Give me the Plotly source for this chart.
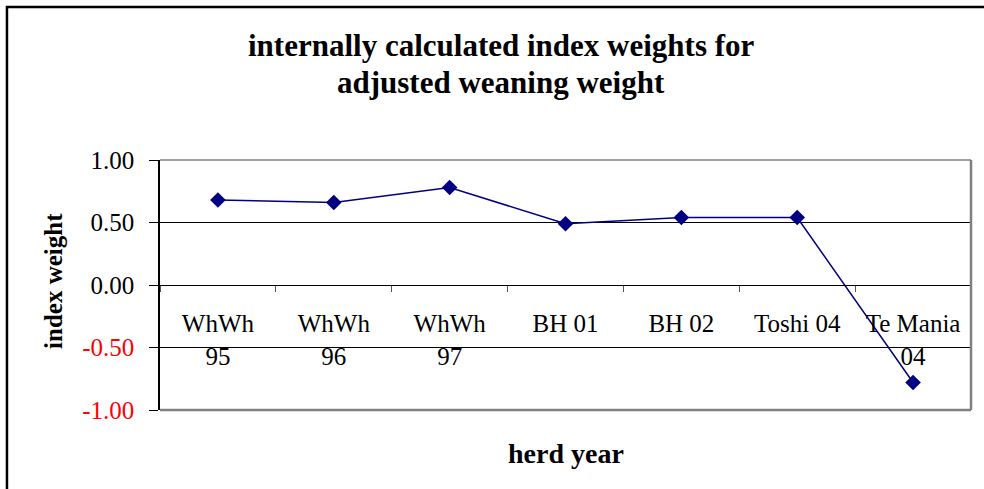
import plotly.graph_objects as go

categories = ["WhWh<br>95", "WhWh<br>96", "WhWh<br>97", "BH 01", "BH 02", "Toshi 04", "Te Mania<br>04"]
values = [0.68, 0.66, 0.78, 0.49, 0.54, 0.54, -0.78]
ytick_vals = [1.0, 0.5, 0.0, -0.5, -1.0]
ytick_text = ["1.00", "0.50", "0.00",
              '<span style="color:#FF0000">-0.50</span>',
              '<span style="color:#FF0000">-1.00</span>']

serif = "Liberation Serif"

fig = go.Figure()
fig.add_trace(go.Scatter(
    x=categories, y=values, mode="lines+markers",
    line=dict(color="#000080", width=1.5),
    marker=dict(symbol="diamond", size=12, color="#000080"),
    showlegend=False, cliponaxis=False,
))

fig.update_layout(
    width=984, height=489, autosize=False,
    margin=dict(l=160, r=13, t=160, b=79),
    paper_bgcolor="white", plot_bgcolor="white",
    font=dict(family=serif, size=24, color="black"),
    xaxis=dict(
        type="category", range=[-0.5, 6.5],
        anchor="free", position=0.5,
        showline=True, linecolor="black", linewidth=1,
        ticks="outside", tickson="boundaries", ticklen=6, tickcolor="#555555",
        showgrid=False, zeroline=False,
        tickfont=dict(family=serif, size=25, color="black"),
        ticklabelstandoff=16,
    ),
    yaxis=dict(
        range=[-1, 1], tickvals=ytick_vals, ticktext=ytick_text,
        showgrid=True, gridcolor="black", gridwidth=1,
        zeroline=False,
        showline=True, linecolor="black", linewidth=1.5,
        ticks="outside", ticklen=9, tickcolor="black",
        tickfont=dict(family=serif, size=25, color="black"),
        ticklabelstandoff=10,
    ),
    annotations=[
        dict(text="<b>internally calculated index weights for</b>",
             xref="paper", yref="paper", x=0.4205, y=(410 - 45) / 250, xanchor="center", yanchor="middle",
             showarrow=False, font=dict(family=serif, size=31, color="black", weight="bold")),
        dict(text="<b>adjusted weaning weight</b>",
             xref="paper", yref="paper", x=0.4205, y=(410 - 83) / 250, xanchor="center", yanchor="middle",
             showarrow=False, font=dict(family=serif, size=31, color="black", weight="bold")),
        dict(text="<b>herd year</b>", xref="paper", yref="paper", x=0.5, y=-0.172,
             xanchor="center", yanchor="middle", showarrow=False,
             font=dict(family=serif, size=28, color="black")),
        dict(text="<b>index weight</b>", xref="paper", yref="paper", x=-0.132, y=0.516,
             xanchor="center", yanchor="middle", textangle=-90, showarrow=False,
             font=dict(family=serif, size=25, color="black")),
    ],
    shapes=[
        dict(type="line", xref="paper", yref="paper", x0=0, x1=1, y0=1, y1=1,
             line=dict(color="#808080", width=1.5), layer="above"),
        dict(type="line", xref="paper", yref="paper", x0=1, x1=1, y0=0, y1=1,
             line=dict(color="#808080", width=2.5), layer="above"),
        dict(type="line", xref="paper", yref="paper", x0=0, x1=1, y0=0, y1=0,
             line=dict(color="#808080", width=2.5), layer="above"),
        dict(type="rect", xref="paper", yref="paper", x0=-0.1887, x1=1.1, y0=-0.6, y1=1.612,
             line=dict(color="black", width=2.5), layer="below"),
    ],
)

fig.write_html("out.html", config={"displayModeBar": False},
               post_script="document.body.style.margin='0';document.body.style.overflow='hidden';")
